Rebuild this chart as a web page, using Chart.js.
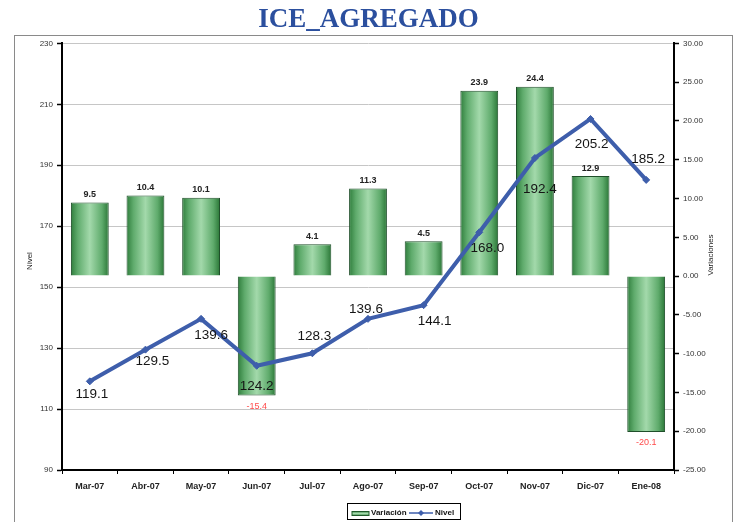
<!DOCTYPE html>
<html><head><meta charset="utf-8">
<script src="https://cdn.jsdelivr.net/npm/chart.js@4.4.0/dist/chart.umd.min.js"></script>
<style>html,body{margin:0;padding:0;background:#fff}#wrap{width:737px;height:522px}</style>
</head><body><div id="wrap"><canvas id="c" width="737" height="522"></canvas></div>
<script>
const categories = ['Mar-07','Abr-07','May-07','Jun-07','Jul-07','Ago-07','Sep-07','Oct-07','Nov-07','Dic-07','Ene-08'];
const variacion = [9.5,10.4,10.1,-15.4,4.1,11.3,4.5,23.9,24.4,12.9,-20.1];
const nivel = [119.1,129.5,139.6,124.2,128.3,139.6,144.1,168.0,192.4,205.2,185.2];
const nivelTicks = [90,110,130,150,170,190,210,230];
const variacionTicks = [-25,-20,-15,-10,-5,0,5,10,15,20,25,30];
// label nudges (style only): [dx, dy] from each Nivel point
const nivelLabelOffset = [[2,13],[7,12],[10,16],[0,20],[2,-17],[-2,-10],[11,16],[8,16],[5,31],[1,25],[2,-21]];

const BAR_PCT = 0.68;
const SANS = "'Liberation Sans', Arial, sans-serif";

function barGradient(c){
  const chart = c.chart, xs = chart.scales.x;
  if (!xs || c.type !== 'data' || !isFinite(xs.width)) return '#6db57a';
  const cx = xs.getPixelForValue(c.dataIndex);
  const w = xs.width / categories.length * BAR_PCT;
  const g = chart.ctx.createLinearGradient(cx - w/2, 0, cx + w/2, 0);
  g.addColorStop(0, '#2f7d3c');
  g.addColorStop(0.18, '#5fab6c');
  g.addColorStop(0.5, '#a3d9ab');
  g.addColorStop(0.82, '#5fab6c');
  g.addColorStop(1, '#2a7636');
  return g;
}

const decor = {
  id: 'decor',
  beforeDraw(chart){
    const ctx = chart.ctx;
    ctx.save();
    ctx.fillStyle = '#fff';
    ctx.fillRect(0,0,chart.width,chart.height);
    ctx.strokeStyle = '#8a8a8a';
    ctx.lineWidth = 1;
    ctx.strokeRect(14.5, 35.5, 718, 520);
    ctx.restore();
  },
  afterDatasetsDraw(chart){
    const ctx = chart.ctx;
    ctx.save();
    const bm = chart.getDatasetMeta(0);
    bm.data.forEach((el, i) => {
      const v = variacion[i];
      ctx.textAlign = 'center';
      ctx.textBaseline = 'middle';
      if (v >= 0) {
        ctx.font = 'bold 9px ' + SANS;
        ctx.fillStyle = '#222';
        ctx.fillText(v.toFixed(1), el.x, el.y - 8);
      } else {
        ctx.font = '9px ' + SANS;
        ctx.fillStyle = '#ff4a4a';
        ctx.fillText(v.toFixed(1), el.x, el.y + 11);
      }
    });
    const lm = chart.getDatasetMeta(1);
    ctx.font = '13.5px ' + SANS;
    ctx.fillStyle = '#151515';
    lm.data.forEach((el, i) => {
      const o = nivelLabelOffset[i];
      ctx.fillText(nivel[i].toFixed(1), el.x + o[0], el.y + o[1]);
    });
    ctx.restore();
  },
  afterDraw(chart){
    const ctx = chart.ctx;
    ctx.save();
    ctx.font = '8px ' + SANS;
    ctx.fillStyle = '#222';
    ctx.textAlign = 'center';
    ctx.textBaseline = 'middle';
    ctx.translate(30, 261); ctx.rotate(-Math.PI/2); ctx.fillText('Nivel', 0, 0);
    ctx.setTransform(1,0,0,1,0,0);
    ctx.translate(711, 255); ctx.rotate(-Math.PI/2); ctx.fillText('Variaciones', 0, 0);
    ctx.setTransform(1,0,0,1,0,0);
    const bx = 347, by = 503, bw = 113, bh = 16;
    ctx.strokeStyle = '#000'; ctx.lineWidth = 1;
    ctx.strokeRect(bx + 0.5, by + 0.5, bw, bh);
    const g = ctx.createLinearGradient(0, by + 8, 0, by + 13);
    g.addColorStop(0, '#2f7d3c'); g.addColorStop(0.5, '#a3d9ab'); g.addColorStop(1, '#2f7d3c');
    ctx.fillStyle = g;
    ctx.fillRect(352, by + 8.5, 17, 4);
    ctx.strokeStyle = '#1f5a2a';
    ctx.strokeRect(352, by + 8.5, 17, 4);
    ctx.font = 'bold 8px ' + SANS;
    ctx.fillStyle = '#111';
    ctx.textAlign = 'left';
    ctx.fillText('Variación', 371, by + 10);
    ctx.strokeStyle = '#3e5eab'; ctx.lineWidth = 1.5;
    ctx.beginPath(); ctx.moveTo(409, by + 10); ctx.lineTo(433, by + 10); ctx.stroke();
    ctx.fillStyle = '#3e5eab';
    ctx.beginPath(); ctx.moveTo(421, by + 7); ctx.lineTo(424, by + 10); ctx.lineTo(421, by + 13); ctx.lineTo(418, by + 10); ctx.closePath(); ctx.fill();
    ctx.fillStyle = '#111';
    ctx.fillText('Nivel', 435, by + 10);
    ctx.restore();
  }
};

new Chart(document.getElementById('c'), {
  data: {
    labels: categories,
    datasets: [
      {
        type: 'bar', label: 'Variación', data: variacion, yAxisID: 'y2', order: 2,
        backgroundColor: barGradient, borderColor: '#1f4f2a', borderWidth: 1,
        barPercentage: BAR_PCT, categoryPercentage: 1
      },
      {
        type: 'line', label: 'Nivel', data: nivel, yAxisID: 'y', order: 1,
        borderColor: '#3e5eab', borderWidth: 4, tension: 0,
        pointStyle: 'rectRot', pointRadius: 3.5, pointBackgroundColor: '#3e5eab',
        pointBorderColor: '#3e5eab', pointBorderWidth: 1
      }
    ]
  },
  options: {
    responsive: false, devicePixelRatio: 1, animation: false,
    layout: { padding: { top: 0, left: 0, right: 0, bottom: 0 } },
    plugins: {
      legend: { display: false },
      tooltip: { enabled: false },
      title: {
        display: true, text: 'ICE_AGREGADO', color: '#2b4f9e',
        font: { family: "'Liberation Serif', 'Times New Roman', serif", size: 27, weight: 'bold' },
        padding: { top: 4, bottom: 7 }
      }
    },
    scales: {
      x: {
        offset: true,
        grid: { display: true, drawOnChartArea: false, offset: true, tickLength: 4, tickColor: '#000', tickWidth: 1 },
        border: { color: '#000', width: 2 },
        ticks: { font: { family: SANS, size: 9, weight: 'bold' }, color: '#222', padding: 7, maxRotation: 0 },
        afterFit(s){ s.height = 52; s.paddingLeft = 0; s.paddingRight = 0; }
      },
      y: {
        position: 'left', min: 90, max: 230,
        afterBuildTicks(s){ s.ticks = nivelTicks.map(v => ({ value: v })); },
        grid: { color: '#c6c6c6', lineWidth: 1, tickLength: 5, tickColor: '#000', tickWidth: 1.5 },
        border: { color: '#000', width: 2 },
        ticks: { font: { family: SANS, size: 8 }, color: '#333', padding: 4 },
        afterFit(s){ s.width = 62; s.paddingTop = 0; s.paddingBottom = 0; }
      },
      y2: {
        position: 'right', min: -25, max: 30,
        afterBuildTicks(s){ s.ticks = variacionTicks.map(v => ({ value: v })); },
        grid: { drawOnChartArea: false, tickLength: 5, tickColor: '#000', tickWidth: 1.5 },
        border: { color: '#000', width: 2 },
        ticks: { font: { family: SANS, size: 8 }, color: '#333', padding: 4, callback: v => Number(v).toFixed(2) },
        afterFit(s){ s.width = 63; s.paddingTop = 0; s.paddingBottom = 0; }
      }
    }
  },
  plugins: [decor]
});
</script></body></html>
